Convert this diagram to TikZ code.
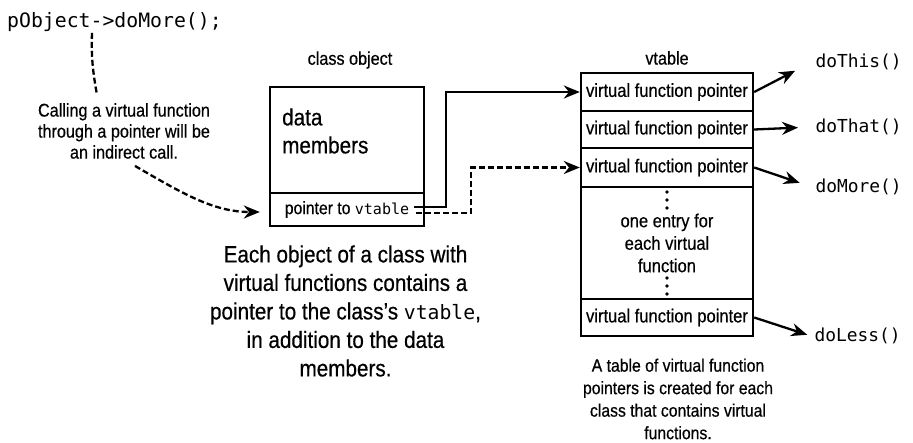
\documentclass[tikz,border=0pt]{standalone}
\usepackage{fontspec}
\setmainfont{Liberation Sans}[FakeStretch=0.88,FakeBold=0.5]
\setmonofont{DejaVu Sans Mono}
\newfontfamily\inlinecode{DejaVu Sans Mono}[Scale=0.84]
\usetikzlibrary{arrows.meta,positioning,calc}
\newcommand{\code}[1]{{\inlinecode #1}}
\newcommand{\fsz}[2]{\fontsize{#1}{#2}\selectfont}

\begin{document}
\begin{tikzpicture}[
  x=1pt, y=1pt,
  box/.style={draw, line width=2.4pt, inner sep=0pt, minimum width=154pt},
  vrow/.style={draw, line width=2.4pt, inner sep=0pt, minimum width=172pt,
    align=center, font=\fsz{18.8}{22.5}},
  lbl/.style={inner sep=0pt, align=center, font=\fsz{18.4}{21}},
  capt/.style={inner sep=0pt, align=center},
  fn/.style={anchor=west, font=\ttfamily\fsz{17.9}{20}},
  link/.style={-{Stealth[length=16pt,width=13pt]}, line width=2.3pt},
  dlink/.style={line width=2.3pt, dash pattern=on 6pt off 3pt}
]
\useasboundingbox (0,0) rectangle (913,-442);
% call site
\node[anchor=west, inner sep=0pt, font=\ttfamily\fsz{19.8}{22}] (call) at (7,-22) {pObject->doMore();};
\node[capt, font=\fsz{18.4}{21}] (note1) at (124,-131)
  {Calling a virtual function\\through a pointer will be\\an indirect call.};
% class object
\node[lbl] (objlbl) at (350,-60) {class object};
\node[box, minimum height=106pt] (obj) at (347,-140) {};
\node[anchor=west, inner sep=0pt, align=left, font=\fsz{23.5}{28}] (objtxt) at (282,-131) {data\\members};
\node[box, minimum height=33pt, font=\fsz{17.9}{20}] (ptr) at (347,-209.5) {pointer to \code{vtable}};
\node[capt, font=\fsz{23.5}{28.5}] (note2) at (345.5,-311)
  {Each object of a class with\\virtual functions contains a\\pointer to the class's \code{vtable},\\in addition to the data\\members.};
% vtable
\node[lbl] (vtlbl) at (667,-58) {vtable};
\node[vrow, minimum height=38pt] (vt1) at (667,-92) {virtual function pointer};
\node[vrow, minimum height=37pt] (vt2) at (667,-129.5) {virtual function pointer};
\node[vrow, minimum height=39pt] (vt3) at (667,-167.5) {virtual function pointer};
\node[vrow, minimum height=112pt] (vtmid) at (667,-243) {one entry for\\each virtual\\function};
\node[vrow, minimum height=37pt] (vt5) at (667,-317.5) {virtual function pointer};
\foreach \y in {192,200,208,278,286,294}
  \fill (667,-\y) circle (1.8pt);
\node[capt, font=\fsz{17.9}{22.5}] (note3) at (678,-399)
  {A table of virtual function\\pointers is created for each\\class that contains virtual\\functions.};
% functions
\node[fn] (fn1) at (812,-62) {doThis()};
\node[fn] (fn2) at (812,-127) {doThat()};
\node[fn] (fn3) at (812,-187) {doMore()};
\node[fn] (fn4) at (811,-336) {doLess()};
% connectors
\draw[dlink] ([xshift=85pt,yshift=-1pt]call.south west) to[out=-92,in=100]
  ([xshift=-27pt,yshift=8pt]note1.north);
\draw[dlink, -{Stealth[length=16pt,width=13pt]}, shorten >=9pt]
  ([xshift=11pt,yshift=-7pt]note1.south) to[out=-30,in=180] ([yshift=-2.5pt]ptr.west);
\draw[link] ([xshift=-11pt,yshift=2.5pt]ptr.east) -- ++(32,0) |- (vt1.west);
\draw[link, dash pattern=on 6pt off 3pt] ([xshift=-9pt,yshift=-3.5pt]ptr.east) -- ++(55,0) |- (vt3.west);
\draw[link, shorten >=19pt] (vt1.east) -- (fn1.west);
\draw[link, shorten >=14pt] (vt2.east) -- (fn2.west);
\draw[link, shorten >=13pt] (vt3.east) -- (fn3.west);
\draw[link, shorten >=4pt] (vt5.east) -- (fn4.west);
\end{tikzpicture}
\end{document}
